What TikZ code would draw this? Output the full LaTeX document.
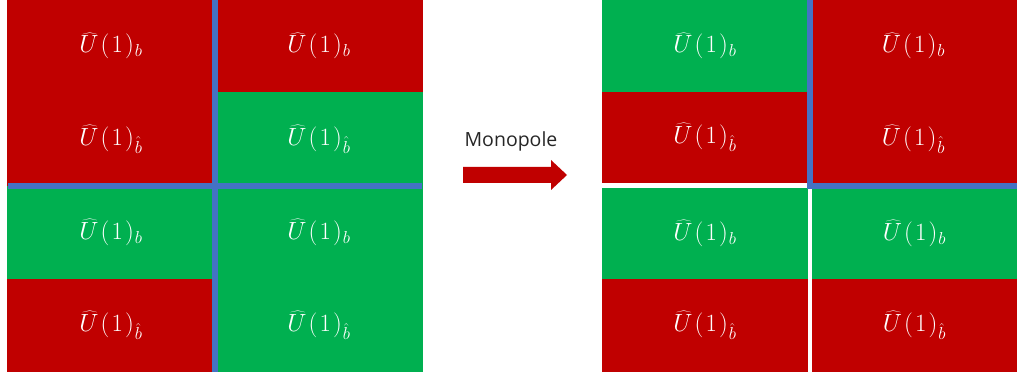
\documentclass[tikz,border=0pt]{standalone}
\usepackage{fontspec}
\newfontfamily\labelfont{Open Sans}
\definecolor{cred}{HTML}{C00000}
\definecolor{cgreen}{HTML}{00B050}
\definecolor{cblue}{HTML}{4472C4}
\definecolor{ctext}{HTML}{262626}
\tikzset{
  cell/.style={anchor=north west, inner sep=0pt, outer sep=0pt, text=white,
    font=\fontsize{25}{29}\selectfont},
  wall/.style={draw=cblue, line width=6pt},
}
\newcommand{\Ub}{$\widehat{U}\mkern1.5mu(\mkern1.5mu1\mkern1.5mu)_{\mkern1mu b}$}
\newcommand{\Uhb}{$\widehat{U}\mkern1.5mu(\mkern1.5mu1\mkern1.5mu)_{\mkern1mu\hat{b}}$}
\begin{document}
\begin{tikzpicture}[x=1pt,y=-1pt]
\useasboundingbox (0,0) rectangle (1017,374);
% left grid
\node[cell, fill=cred, minimum width=208, minimum height=92] (L11) at (7,0) {\Ub};
\node[cell, fill=cred, minimum width=208, minimum height=94] (L21) at (7,92) {\Uhb};
\node[cell, fill=cred, minimum width=208, minimum height=92] (L12) at (215,0) {\Ub};
\node[cell, fill=cgreen, minimum width=208, minimum height=94] (L22) at (215,92) {\Uhb};
\node[cell, fill=cgreen, minimum width=208, minimum height=93] (L31) at (7,186) {\Ub};
\node[cell, fill=cred, minimum width=208, minimum height=93] (L41) at (7,279) {\Uhb};
\node[cell, fill=cgreen, minimum width=208, minimum height=93] (L32) at (215,186) {\Ub};
\node[cell, fill=cgreen, minimum width=208, minimum height=93] (L42) at (215,279) {\Uhb};
\coordinate (lvt) at (215,0);
\coordinate (lvb) at (215,372);
\coordinate (lhl) at (8,186);
\coordinate (lhr) at (422,186);
\draw[wall] (lvt) -- (lvb);
\draw[wall] (lhl) -- (lhr);
% arrow
\node[font=\labelfont\fontsize{19.5}{23}\selectfont, text=ctext, anchor=base] (mono) at (511,147) {Monopole};
\fill[cred] (463,167) -- (551,167) -- (551,160) -- (567,175) -- (551,190) -- (551,183) -- (463,183) -- cycle;
% right grid
\node[cell, fill=cgreen, minimum width=206, minimum height=92] (R11) at (602,0) {\Ub};
\node[cell, fill=cred, minimum width=206, minimum height=91] (R21) at (602,92) {\Uhb};
\node[cell, fill=cred, minimum width=207, minimum height=92] (R12) at (810,0) {\Ub};
\node[cell, fill=cred, minimum width=207, minimum height=94] (R22) at (810,92) {\Uhb};
\node[cell, fill=cgreen, minimum width=206, minimum height=91] (R31) at (602,188) {\Ub};
\node[cell, fill=cred, minimum width=206, minimum height=93] (R41) at (602,279) {\Uhb};
\node[cell, fill=cgreen, minimum width=205, minimum height=91] (R32) at (812,188) {\Ub};
\node[cell, fill=cred, minimum width=205, minimum height=93] (R42) at (812,279) {\Uhb};
\coordinate (rvt) at (810,0);
\coordinate (rc) at (810,186);
\coordinate (rhr) at (1017,186);
\draw[wall, line join=miter] (rvt) -- (rc) -- (rhr);
\end{tikzpicture}
\end{document}
